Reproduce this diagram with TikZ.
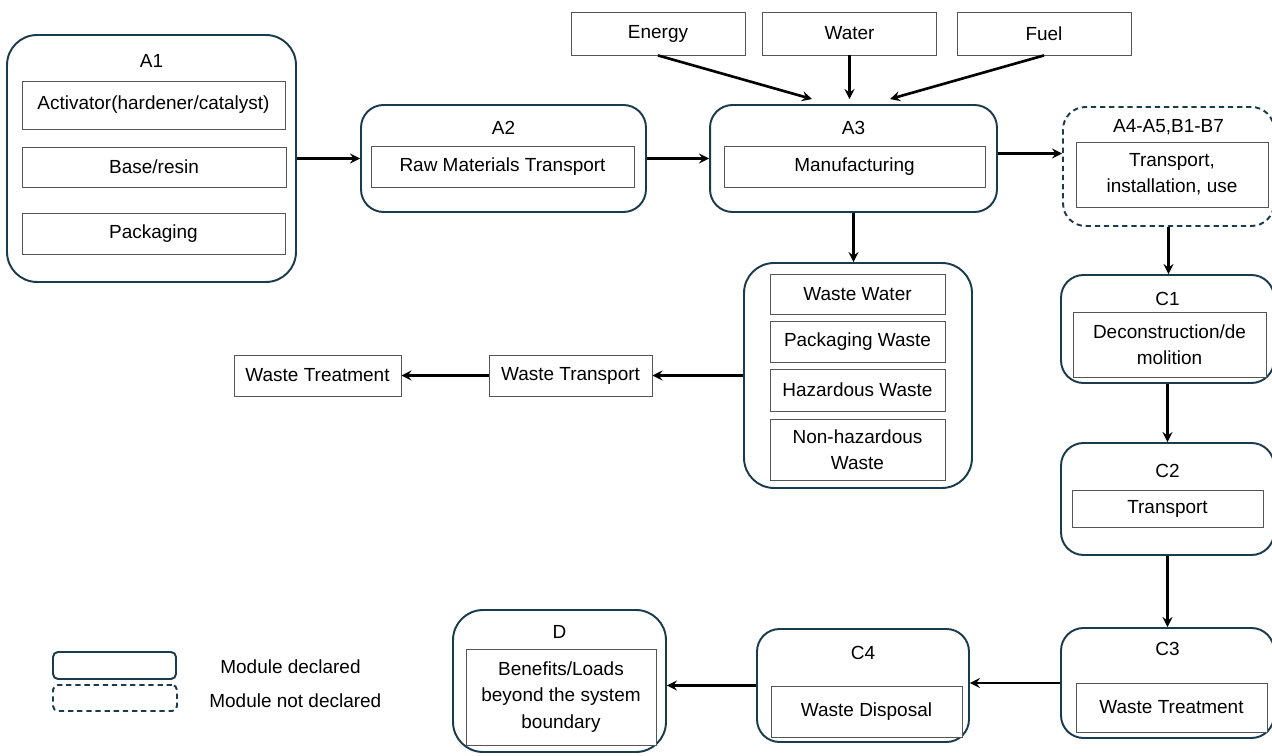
\documentclass[tikz,border=0pt]{standalone}
\usepackage{fontspec}
\setmainfont{Liberation Sans}
\usepackage{xcolor}
\usetikzlibrary{shapes,arrows,positioning}
\definecolor{modline}{HTML}{1A3A4E}
\definecolor{boxline}{HTML}{555555}

\begin{document}
\begin{tikzpicture}[
    x=0.02cm, y=-0.02cm,
    font=\fontsize{10.8}{15}\selectfont,
    module/.style={rectangle, draw=modline, line width=1.1pt, rounded corners=0.45cm},
    bigmodule/.style={module, rounded corners=0.6cm},
    optmodule/.style={module, dash pattern=on 3pt off 2.2pt},
    item/.style={rectangle, draw=boxline, line width=0.5pt, align=center, fill=white, inner sep=2pt},
    title/.style={inner sep=0pt},
    arrow/.style={->, >=stealth, line width=1.5pt}
]
    \useasboundingbox (0,0) rectangle (1272,756);

    % A1 raw materials
    \node[bigmodule, minimum width=5.78cm, minimum height=4.94cm] (a1) at (151.5,158.5) {};
    \node[title] at ([yshift=-0.54cm]a1.north) {A1};
    \node[item, minimum width=5.26cm, minimum height=0.96cm] (act) at (153.5,105) {Activator(hardener/catalyst)};
    \node[item, minimum width=5.28cm, minimum height=0.8cm] (base) at (154,167) {Base/resin};
    \node[item, minimum width=5.26cm, minimum height=0.82cm] (pack) at (153.5,233.5) {Packaging};

    % A2 transport
    \node[module, minimum width=5.7cm, minimum height=2.14cm] (a2) at (503.5,158.5) {};
    \node[title] at ([yshift=-0.48cm]a2.north) {A2};
    \node[item, minimum width=5.26cm, minimum height=0.82cm] (rmt) at (502.5,166.5) {Raw Materials Transport};

    % A3 manufacturing
    \node[module, minimum width=5.74cm, minimum height=2.14cm] (a3) at (853.5,158.5) {};
    \node[title] at ([yshift=-0.48cm]a3.north) {A3};
    \node[item, minimum width=5.22cm, minimum height=0.82cm] (manu) at (854.5,166.5) {Manufacturing};

    % Inputs
    \node[item, minimum width=3.48cm, minimum height=0.86cm] (energy) at (658,33.5) {Energy};
    \node[item, minimum width=3.48cm, minimum height=0.86cm] (water) at (849.5,33.5) {Water};
    \node[item, minimum width=3.48cm, minimum height=0.86cm] (fuel) at (1044,33.5) {Fuel};

    % A4-A5, B1-B7 (not declared)
    \node[optmodule, minimum width=4.22cm, minimum height=2.38cm] (a4) at (1168.5,166.5) {};
    \node[title] at ([yshift=-0.42cm]a4.north) {A4-A5,B1-B7};
    \node[item, minimum width=3.84cm, minimum height=1.3cm] (use) at (1172,174.5) {Transport,\\installation, use};

    % End of life
    \node[module, minimum width=4.26cm, minimum height=2.16cm] (c1) at (1167.5,329) {};
    \node[title] at ([yshift=-0.5cm]c1.north) {C1};
    \node[item, minimum width=3.86cm, minimum height=1.3cm] (demo) at (1169.5,344.5) {Deconstruction/de\\molition};

    \node[module, minimum width=4.26cm, minimum height=2.24cm] (c2) at (1167.5,499) {};
    \node[title] at ([yshift=-0.58cm]c2.north) {C2};
    \node[item, minimum width=3.82cm, minimum height=0.74cm] (trans) at (1167.5,508.5) {Transport};

    \node[module, minimum width=4.26cm, minimum height=2.2cm] (c3) at (1167.5,683) {};
    \node[title] at ([yshift=-0.44cm]c3.north) {C3};
    \node[item, minimum width=3.82cm, minimum height=0.98cm] (treat) at (1171.5,707.5) {Waste Treatment};

    \node[module, minimum width=4.24cm, minimum height=2.26cm] (c4) at (863,685.5) {};
    \node[title] at ([yshift=-0.5cm]c4.north) {C4};
    \node[item, minimum width=3.82cm, minimum height=1.02cm] (disp) at (866.5,711.5) {Waste Disposal};

    % D
    \node[bigmodule, minimum width=4.26cm, minimum height=2.84cm] (d) at (559.5,681) {};
    \node[title] at ([yshift=-0.46cm]d.north) {D};
    \node[item, minimum width=3.8cm, minimum height=1.92cm] (bene) at (561,697) {Benefits/Loads\\beyond the system\\boundary};

    % Waste from manufacturing
    \node[bigmodule, minimum width=4.56cm, minimum height=4.5cm] (waste) at (858,375.5) {};
    \node[item, minimum width=3.5cm, minimum height=0.8cm] (ww) at (857.5,294) {Waste Water};
    \node[item, minimum width=3.5cm, minimum height=0.82cm] (pw) at (857.5,341.5) {Packaging Waste};
    \node[item, minimum width=3.5cm, minimum height=0.84cm] (hw) at (857.5,390) {Hazardous Waste};
    \node[item, minimum width=3.5cm, minimum height=1.22cm] (nhw) at (857.5,449.5) {Non-hazardous\\Waste};

    \node[item, minimum width=3.26cm, minimum height=0.82cm] (wtrans) at (570.5,375.5) {Waste Transport};
    \node[item, minimum width=3.34cm, minimum height=0.82cm] (wtreat) at (317.5,375.5) {Waste Treatment};

    % Legend
    \node[module, rounded corners=0.1cm, minimum width=2.46cm, minimum height=0.54cm] (lgdecl) at (114.5,665.5) {};
    \node[optmodule, rounded corners=0.1cm, minimum width=2.48cm, minimum height=0.52cm] (lgnot) at (115,698) {};
    \node[title, anchor=west] (lgdecltxt) at (220,667) {Module declared};
    \node[title, anchor=west] (lgnottxt) at (209,701) {Module not declared};

    % Arrows
    \draw[arrow] (a1.east) -- (a2.west);
    \draw[arrow] (a2.east) -- (a3.west);
    \draw[arrow] (energy.south) -- ([xshift=-0.83cm,yshift=0.1cm]a3.north);
    \draw[arrow] (water.south) -- ([yshift=0.1cm]water.south |- a3.north);
    \draw[arrow] (fuel.south) -- ([xshift=0.73cm,yshift=0.1cm]a3.north);
    \draw[arrow] ([yshift=0.1cm]a3.east) -- ([yshift=0.1cm]a3.east -| a4.west);
    \draw[arrow] (a3.south) -- (a3.south |- waste.north);
    \draw[arrow] (waste.west) -- (wtrans.east);
    \draw[arrow] (wtrans.west) -- (wtreat.east);
    \draw[arrow] (a4.south) -- (a4.south |- c1.north);
    \draw[arrow] (c1.south) -- (c1.south |- c2.north);
    \draw[arrow] (c2.south) -- (c3.north);
    \draw[arrow] (c3.west) -- (c3.west -| c4.east);
    \draw[arrow] (c4.west) -- (c4.west -| d.east);
\end{tikzpicture}
\end{document}
